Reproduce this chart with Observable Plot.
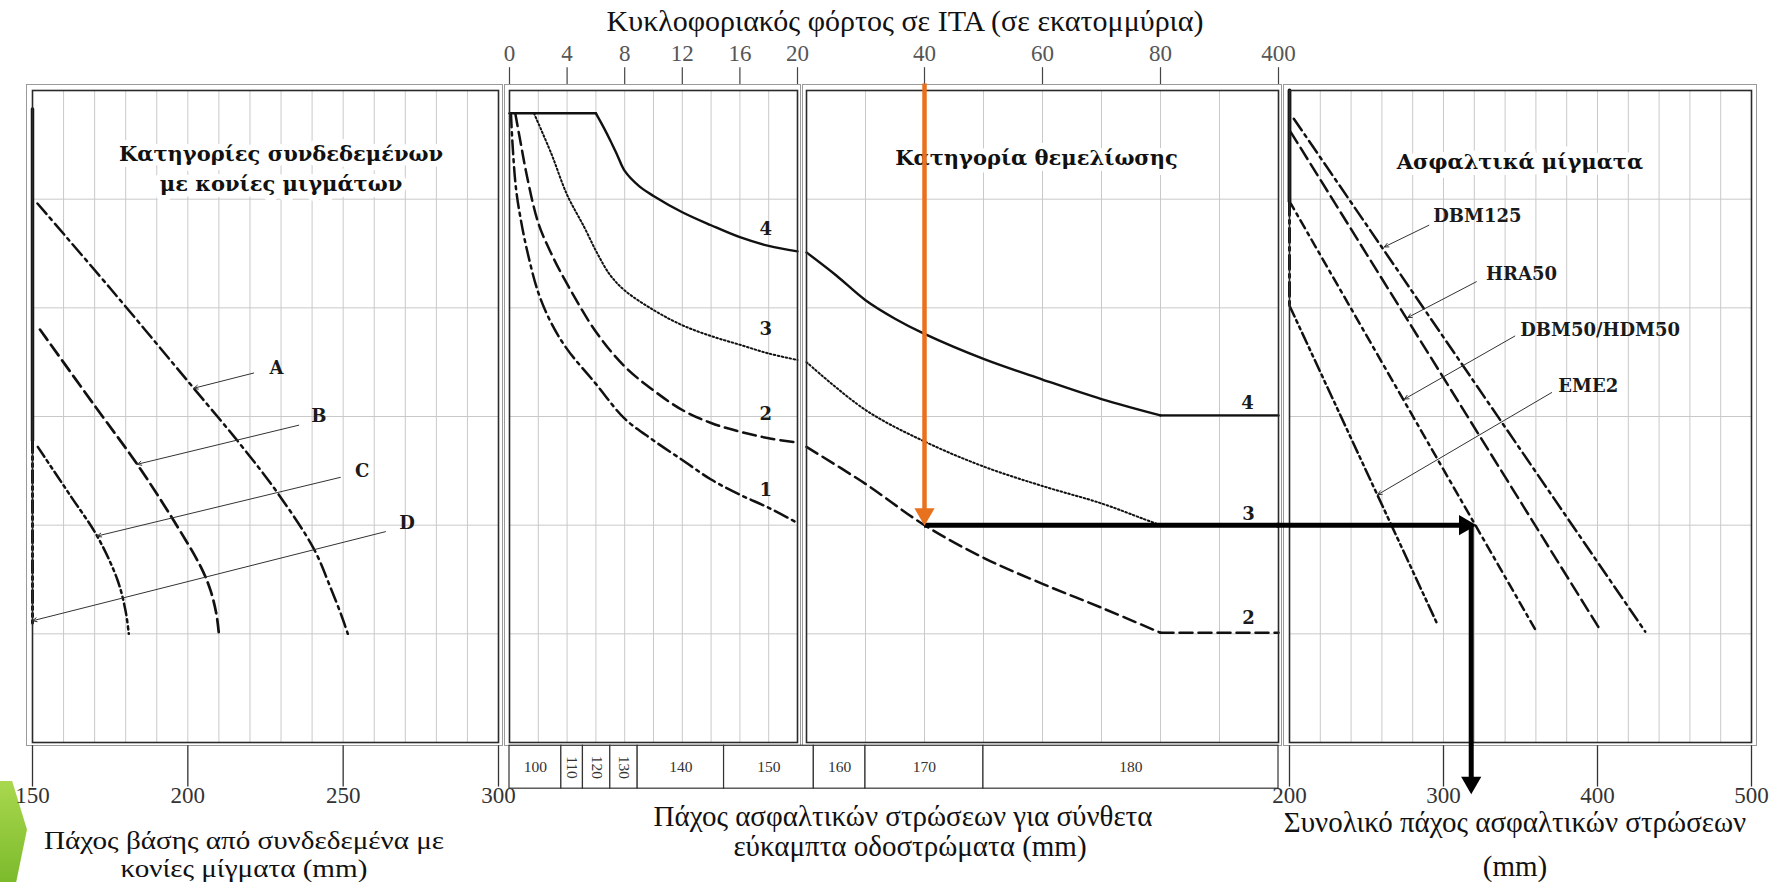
<!DOCTYPE html>
<html>
<head>
<meta charset="utf-8">
<script src="https://cdn.jsdelivr.net/npm/d3@7"></script>
<script src="https://cdn.jsdelivr.net/npm/@observablehq/plot@0.6"></script>
<style>
  html,body{margin:0;padding:0;background:#fff;}
  #page{position:relative;width:1779px;height:882px;overflow:hidden;background:#fff;font-family:"Liberation Serif","Times New Roman",serif;color:#111;}
  #page svg{position:absolute;left:0;top:0;}
  .t{position:absolute;white-space:nowrap;transform:translate(-50%,-50%);font-size:29px;line-height:1;color:#111;}
  .w{transform:translate(-50%,-50%) scaleX(1.12);font-size:26px;}
  .deco{position:absolute;left:0;top:781px;width:27px;height:101px;background:linear-gradient(180deg,#a9d84e,#7cba2c);clip-path:polygon(0 0,45% 0,100% 48%,60% 100%,0 100%);}
</style>
</head>
<body>
<div id="page">
  <div class="deco"></div>
  <div class="t" style="left:905px;top:21px;font-size:30px;">Κυκλοφοριακός φόρτος σε ΙΤΑ (σε εκατομμύρια)</div>
  <div class="t w" style="left:244px;top:841px;">Πάχος βάσης από συνδεδεμένα με</div>
  <div class="t w" style="left:244px;top:869px;">κονίες μίγματα (mm)</div>
  <div class="t" style="left:903px;top:816px;">Πάχος ασφαλτικών στρώσεων για σύνθετα</div>
  <div class="t" style="left:910px;top:846px;">εύκαμπτα οδοστρώματα (mm)</div>
  <div class="t" style="left:1515px;top:822px;">Συνολικό πάχος ασφαλτικών στρώσεων</div>
  <div class="t" style="left:1515px;top:866px;">(mm)</div>
</div>
<script>
// ======================= DATA =======================
// vertical position of the nomogram is expressed in "levels": 0 = top of the panels, 6 = bottom
const levels = [1, 2, 3, 4, 5];

// --- Left panel: base thickness of hydraulically bound mixtures (mm)
const baseTicks = [150, 200, 250, 300];
const baseGrid = [160, 170, 180, 190, 200, 210, 220, 230, 240, 250, 260, 270, 280, 290];
const catA = [[151.6, 1.04], [175, 1.82], [201.9, 2.74], [217, 3.26], [228.8, 3.7], [240.6, 4.22], [246, 4.58], [249.3, 4.82], [251.5, 5.0]];
const catB = [[152.4, 2.2], [170, 2.9], [183.7, 3.44], [195.5, 3.96], [204.1, 4.38], [207.3, 4.6], [209.2, 4.82], [210, 5.0]];
const catC = [[151.7, 3.28], [162, 3.72], [170.8, 4.1], [177.3, 4.5], [179.9, 4.78], [181, 5.0]];
const minBaseSolid = [[150, 0.17], [150, 3.22]];
const catD = [[150, 3.22], [150, 4.9]];
const catNames = ["A", "B", "C", "D"];
const catLabelX = [228.5, 242.2, 256.1, 270.6];
const catLabelY = [2.56, 3.0, 3.5, 3.98];
const catLeaderFrom = [[221.2, 2.6], [235.7, 3.08], [249.1, 3.56], [263.6, 4.06]];
const catLeaderTo = [[201.9, 2.74], [183.7, 3.44], [170.8, 4.1], [150, 4.88]];
const leftTitle = "Κατηγορίες συνδεδεμένων\nμε κονίες μιγμάτων";

// --- Top axis: traffic in msa (millions)
const trafficTicksLow = [0, 4, 8, 12, 16, 20];
const trafficGridLow = [2, 4, 6, 8, 10, 12, 14, 16, 18];
const trafficTicksHigh = [40, 60, 80, 400];
const trafficGridHigh = [30, 40, 50, 60, 70, 80, 240];

// --- Foundation classes 1..4 (traffic 0-20)
const f1Low = [[0.1, 0.21], [0.2, 0.47], [0.45, 0.9], [0.8, 1.2], [1.27, 1.5], [2, 1.86], [2.9, 2.14], [4, 2.38], [6, 2.7], [8, 3.02], [10, 3.22], [12, 3.4], [14, 3.58], [16, 3.72], [18, 3.84], [20, 3.98]];
const f2Low = [[0.4, 0.21], [0.8, 0.5], [1.2, 0.78], [2, 1.22], [2.9, 1.5], [4, 1.78], [6, 2.22], [8, 2.54], [10, 2.76], [12, 2.94], [14, 3.06], [16, 3.14], [18, 3.2], [20, 3.24]];
const f3Low = [[1.7, 0.21], [2.9, 0.58], [4, 0.96], [5.2, 1.26], [6.1, 1.5], [7, 1.7], [8, 1.84], [10, 2.02], [12, 2.16], [14, 2.26], [16, 2.34], [18, 2.42], [20, 2.48]];
const f4Flat = [[0, 0.21], [6, 0.21]];
const f4Low = [[6, 0.21], [6.5, 0.33], [7, 0.46], [7.5, 0.6], [8, 0.74], [9, 0.88], [10, 0.97], [12, 1.12], [14, 1.24], [16, 1.35], [18, 1.43], [20, 1.48]];
const classNames = ["1", "2", "3", "4"];
const classLabelXLow = [17.8, 17.8, 17.8, 17.8];
const classLabelYLow = [3.68, 2.98, 2.2, 1.28];

// --- Foundation classes 2..4 (traffic 20-400)
const f2High = [[20, 3.28], [30, 3.62], [40, 4.0], [50, 4.3], [60, 4.54], [70, 4.76], [80, 4.99]];
const f3High = [[20, 2.5], [30, 2.94], [40, 3.23], [50, 3.46], [60, 3.64], [70, 3.8], [77, 3.94], [80, 4.0]];
const f4High = [[20, 1.49], [25, 1.7], [30, 1.93], [35, 2.1], [40, 2.24], [50, 2.47], [60, 2.66], [70, 2.84], [80, 2.99]];
const f2Flat = [[80, 4.99], [400, 4.99]];
const f3Flat = [[80, 4.0], [400, 4.0]];
const f4Flat2 = [[80, 2.99], [400, 2.99]];
const classNamesHigh = ["2", "3", "4"];
const classLabelXHigh = [319, 319, 316];
const classLabelYHigh = [4.86, 3.9, 2.88];
const midTitle = "Κατηγορία θεμελίωσης";

// --- Asphalt thickness for composite pavements (strip under the middle panels)
const stripLabels = ["100", "110", "120", "130", "140", "150", "160", "170", "180"];
const stripBounds = [0, 3.6, 5.1, 7.0, 8.9, 14.9, 22.4, 30, 50, 400];

// --- Right panel: total asphalt thickness (mm)
const totalTicks = [200, 300, 400, 500];
const totalGrid = [220, 240, 260, 280, 300, 320, 340, 360, 380, 400, 420, 440, 460, 480];
const mixNames = ["DBM125", "HRA50", "DBM50/HDM50", "EME2"];
const mixStart = [[202.8, 0.26], [200.7, 0.38], [200, 1.02], [200, 1.98]];
const mixEnd = [[431, 4.98], [400.7, 4.94], [360.4, 4.98], [296.3, 4.92]];
const mixLabelX = [322, 350.7, 401.7, 394];
const mixLabelY = [1.16, 1.69, 2.21, 2.72];
const mixLeaderFrom = [[290.5, 1.24], [321.3, 1.76], [346.3, 2.26], [370.2, 2.78]];
const mixLeaderTo = [[261.5, 1.44], [276.7, 2.09], [274.6, 2.84], [257.2, 3.72]];
const minAsphaltSolid = [[200, 0], [200, 1.02]];
const minAsphaltDash = [[200, 1.02], [200, 1.98]];
const rightTitle = "Ασφαλτικά μίγματα";

// --- Worked example (arrows)
const exampleTraffic = 40;   // msa
const exampleLevel = 4.0;    // level on foundation class 2
const exampleTotal = 318;    // mm read on the total-thickness axis
const exampleTip = 321;      // end of horizontal arrow (on DBM50/HDM50 line)

// ======================= NOMOGRAM AXIS CONSTRUCTION =======================
// Upper traffic range 20-400 msa: 6 equal columns for 20..80, 2 columns for 80..400
const trafficColumn = d3.scaleLinear([20, 80, 400], [0, 6, 8]);
// Strip under the middle panels: expressed in 2-msa columns of the 0-20 panel
const stripColumn = d3.scaleLinear([0, 20, 30, 80, 400], [0, 10, 12.36, 22.6, 26.7]);

// ======================= DRAWING =======================
const W = 1779, H = 882, TOP = 90, BOTTOM = 742;
const INK = "#111", GRID = "#c9c9c9", ORANGE = "#E8711E";
const BOLD = "DejaVu Serif", SERIF = "Liberation Serif";
const DASH_DOT = "14,5,3,5", DASH = "13,6", DASH_DOT_DOT = "12,4,3,4,3,4", DOTS = "1.6,2.4", SHORT_DASH_DOT = "9,5,3,5";

function panel(left, right, xScale, marks) {
  return Plot.plot({
    width: W, height: H,
    marginLeft: left, marginRight: W - right, marginTop: TOP, marginBottom: H - BOTTOM,
    x: {...xScale, axis: null},
    y: {domain: [0, 6], reverse: true, axis: null},
    style: {background: "transparent", overflow: "visible"},
    marks
  });
}
function frames(insets) {
  return [
    Plot.frame({stroke: "#9a9a9a", strokeWidth: 1, ...insets}),
    Plot.frame({stroke: "#2a2a2a", strokeWidth: 1.6})
  ];
}
function grid(xs, fx = d => d) {
  return [
    Plot.ruleX(xs, {x: fx, y1: 0, y2: 6, stroke: GRID, strokeWidth: 1}),
    Plot.ruleY(levels, {y: d => d, stroke: GRID, strokeWidth: 1})
  ];
}
function curve(data, dash, width = 2.5, type = "catmull-rom", fx = v => v) {
  return Plot.line(data, {x: d => fx(d[0]), y: d => d[1], curve: type, stroke: INK, strokeWidth: width, strokeDasharray: dash});
}
function title(text, x, y, size) {
  return Plot.text([text], {x, y, text: d => d, fontFamily: BOLD, fontWeight: "bold", fontSize: size,
    lineHeight: 1.42, fill: INK, stroke: "white", strokeWidth: 12, paintOrder: "stroke"});
}
function labels(names, xs, ys, size, fx = v => v) {
  return Plot.text(names, {x: (d, i) => fx(xs[i]), y: (d, i) => ys[i], text: d => d, fontFamily: BOLD,
    fontWeight: "bold", fontSize: size, fill: "#1a1a1a"});
}
function leaders(names, from, to) {
  return Plot.arrow(names, {x1: (d, i) => from[i][0], y1: (d, i) => from[i][1], x2: (d, i) => to[i][0], y2: (d, i) => to[i][1],
    stroke: "#333", strokeWidth: 1, headLength: 7, headAngle: 50});
}
function topAxis(ticks, fx = v => v) {
  return [
    Plot.ruleX(ticks, {x: fx, y1: -0.21, y2: -0.055, stroke: "#444", strokeWidth: 1.2}),
    Plot.text(ticks, {x: fx, y: -0.34, text: d => String(d), fontFamily: SERIF, fontSize: 23, fill: "#555"})
  ];
}
function bottomAxis(ticks) {
  return [
    Plot.ruleX(ticks, {x: d => d, y1: 6.03, y2: 6.41, stroke: "#333", strokeWidth: 1.3}),
    Plot.text(ticks, {x: d => d, y: 6.49, text: d => String(d), fontFamily: SERIF, fontSize: 23, fill: "#333"})
  ];
}

const page = document.getElementById("page");

// ---- Left panel
page.appendChild(panel(32, 498, {domain: [150, 300]}, [
  ...grid(baseGrid),
  title(leftTitle, 230, 0.7, 21),
  curve(catA, DASH_DOT),
  curve(catB, DASH, 2.7),
  curve(catC, DASH_DOT_DOT),
  curve(minBaseSolid, null, 3.5, "linear"),
  curve(catD, DASH_DOT_DOT, 3, "linear"),
  leaders(catNames, catLeaderFrom, catLeaderTo),
  labels(catNames, catLabelX, catLabelY, 18),
  ...frames({insetLeft: -6, insetTop: -6, insetRight: -4, insetBottom: -3}),
  ...bottomAxis(baseTicks)
]));

// ---- Middle panel, traffic 0-20 msa
page.appendChild(panel(509, 797, {domain: [0, 20]}, [
  ...grid(trafficGridLow),
  curve(f1Low, DASH_DOT),
  curve(f2Low, DASH),
  curve(f3Low, DOTS, 2),
  curve(f4Flat, null, 2.4, "linear"),
  curve(f4Low, null, 2.4),
  labels(classNames, classLabelXLow, classLabelYLow, 18),
  ...frames({insetLeft: -5, insetTop: -6, insetRight: -3, insetBottom: -3}),
  ...topAxis(trafficTicksLow)
]));

// ---- Middle panel, traffic 20-400 msa (columns)
const tc = v => trafficColumn(v);
page.appendChild(panel(806, 1278, {domain: [0, 8]}, [
  ...grid(trafficGridHigh, tc),
  title(midTitle, tc(59), 0.6, 21),
  curve(f2High, DASH, 2.5, "catmull-rom", tc),
  curve(f3High, DOTS, 2, "catmull-rom", tc),
  curve(f4High, null, 2.4, "catmull-rom", tc),
  curve(f2Flat, DASH, 2.5, "linear", tc),
  curve(f3Flat, DOTS, 2.4, "linear", tc),
  curve(f4Flat2, null, 2.4, "linear", tc),
  labels(classNamesHigh, classLabelXHigh, classLabelYHigh, 18, tc),
  ...frames({insetLeft: -4, insetTop: -6, insetRight: -3, insetBottom: -3}),
  ...topAxis(trafficTicksHigh, tc),
  Plot.ruleY([exampleLevel], {y: d => d, x1: tc(exampleTraffic), x2: tc(400), stroke: "#000", strokeWidth: 5}),
  Plot.ruleX([exampleTraffic], {x: tc, y1: -0.06, y2: exampleLevel, stroke: ORANGE, strokeWidth: 4.5, insetBottom: 14}),
  Plot.dot([exampleTraffic], {x: tc, y: exampleLevel, symbol: "triangle", r: 7.5, rotate: 180, dy: -11, fill: ORANGE, stroke: "none"})
]));

// ---- Strip: asphalt thickness of composite pavements
const cells = stripLabels.map((label, i) => {
  const lo = stripColumn(stripBounds[i]), hi = stripColumn(stripBounds[i + 1]);
  return {label, lo, hi, mid: (lo + hi) / 2, narrow: hi - lo < 1.2};
});
page.appendChild(panel(509, 1278, {domain: [0, 26.7]}, [
  Plot.rect(cells, {x1: "lo", x2: "hi", y1: 6.03, y2: 6.425, fill: "white", stroke: "#333", strokeWidth: 1.2}),
  Plot.text(cells, {x: "mid", y: 6.23, text: "label", rotate: d => d.narrow ? 90 : 0, fontFamily: SERIF, fontSize: 15.5, fill: "#333"})
]));

// ---- Right panel: total asphalt thickness
const mixes = mixNames.map((name, i) => ({name, i}));
const mixDash = [DASH_DOT, DASH, SHORT_DASH_DOT, DASH_DOT_DOT];
page.appendChild(panel(1289, 1751, {domain: [200, 500]}, [
  ...grid(totalGrid),
  title(rightTitle, 349.6, 0.63, 21),
  ...mixes.map(m => curve([mixStart[m.i], mixEnd[m.i]], mixDash[m.i], 2.5, "linear")),
  curve(minAsphaltSolid, null, 3.8, "linear"),
  curve(minAsphaltDash, DASH_DOT, 3, "linear"),
  leaders(mixNames, mixLeaderFrom, mixLeaderTo),
  labels(mixNames, mixLabelX, mixLabelY, 18),
  ...frames({insetLeft: -6, insetTop: -6, insetRight: -5, insetBottom: -3}),
  ...bottomAxis(totalTicks),
  Plot.ruleY([exampleLevel], {y: d => d, x1: 192, x2: exampleTip, stroke: "#000", strokeWidth: 5, insetRight: 14}),
  Plot.dot([exampleTip], {x: d => d, y: exampleLevel, symbol: "triangle", r: 7.5, rotate: 90, dx: -11, fill: "#000", stroke: "none"}),
  Plot.ruleX([exampleTotal], {x: d => d, y1: exampleLevel, y2: 6.47, stroke: "#000", strokeWidth: 5, insetBottom: 14}),
  Plot.dot([exampleTotal], {x: d => d, y: 6.47, symbol: "triangle", r: 7.5, rotate: 180, dy: -11, fill: "#000", stroke: "none"})
]));
</script>
</body>
</html>
